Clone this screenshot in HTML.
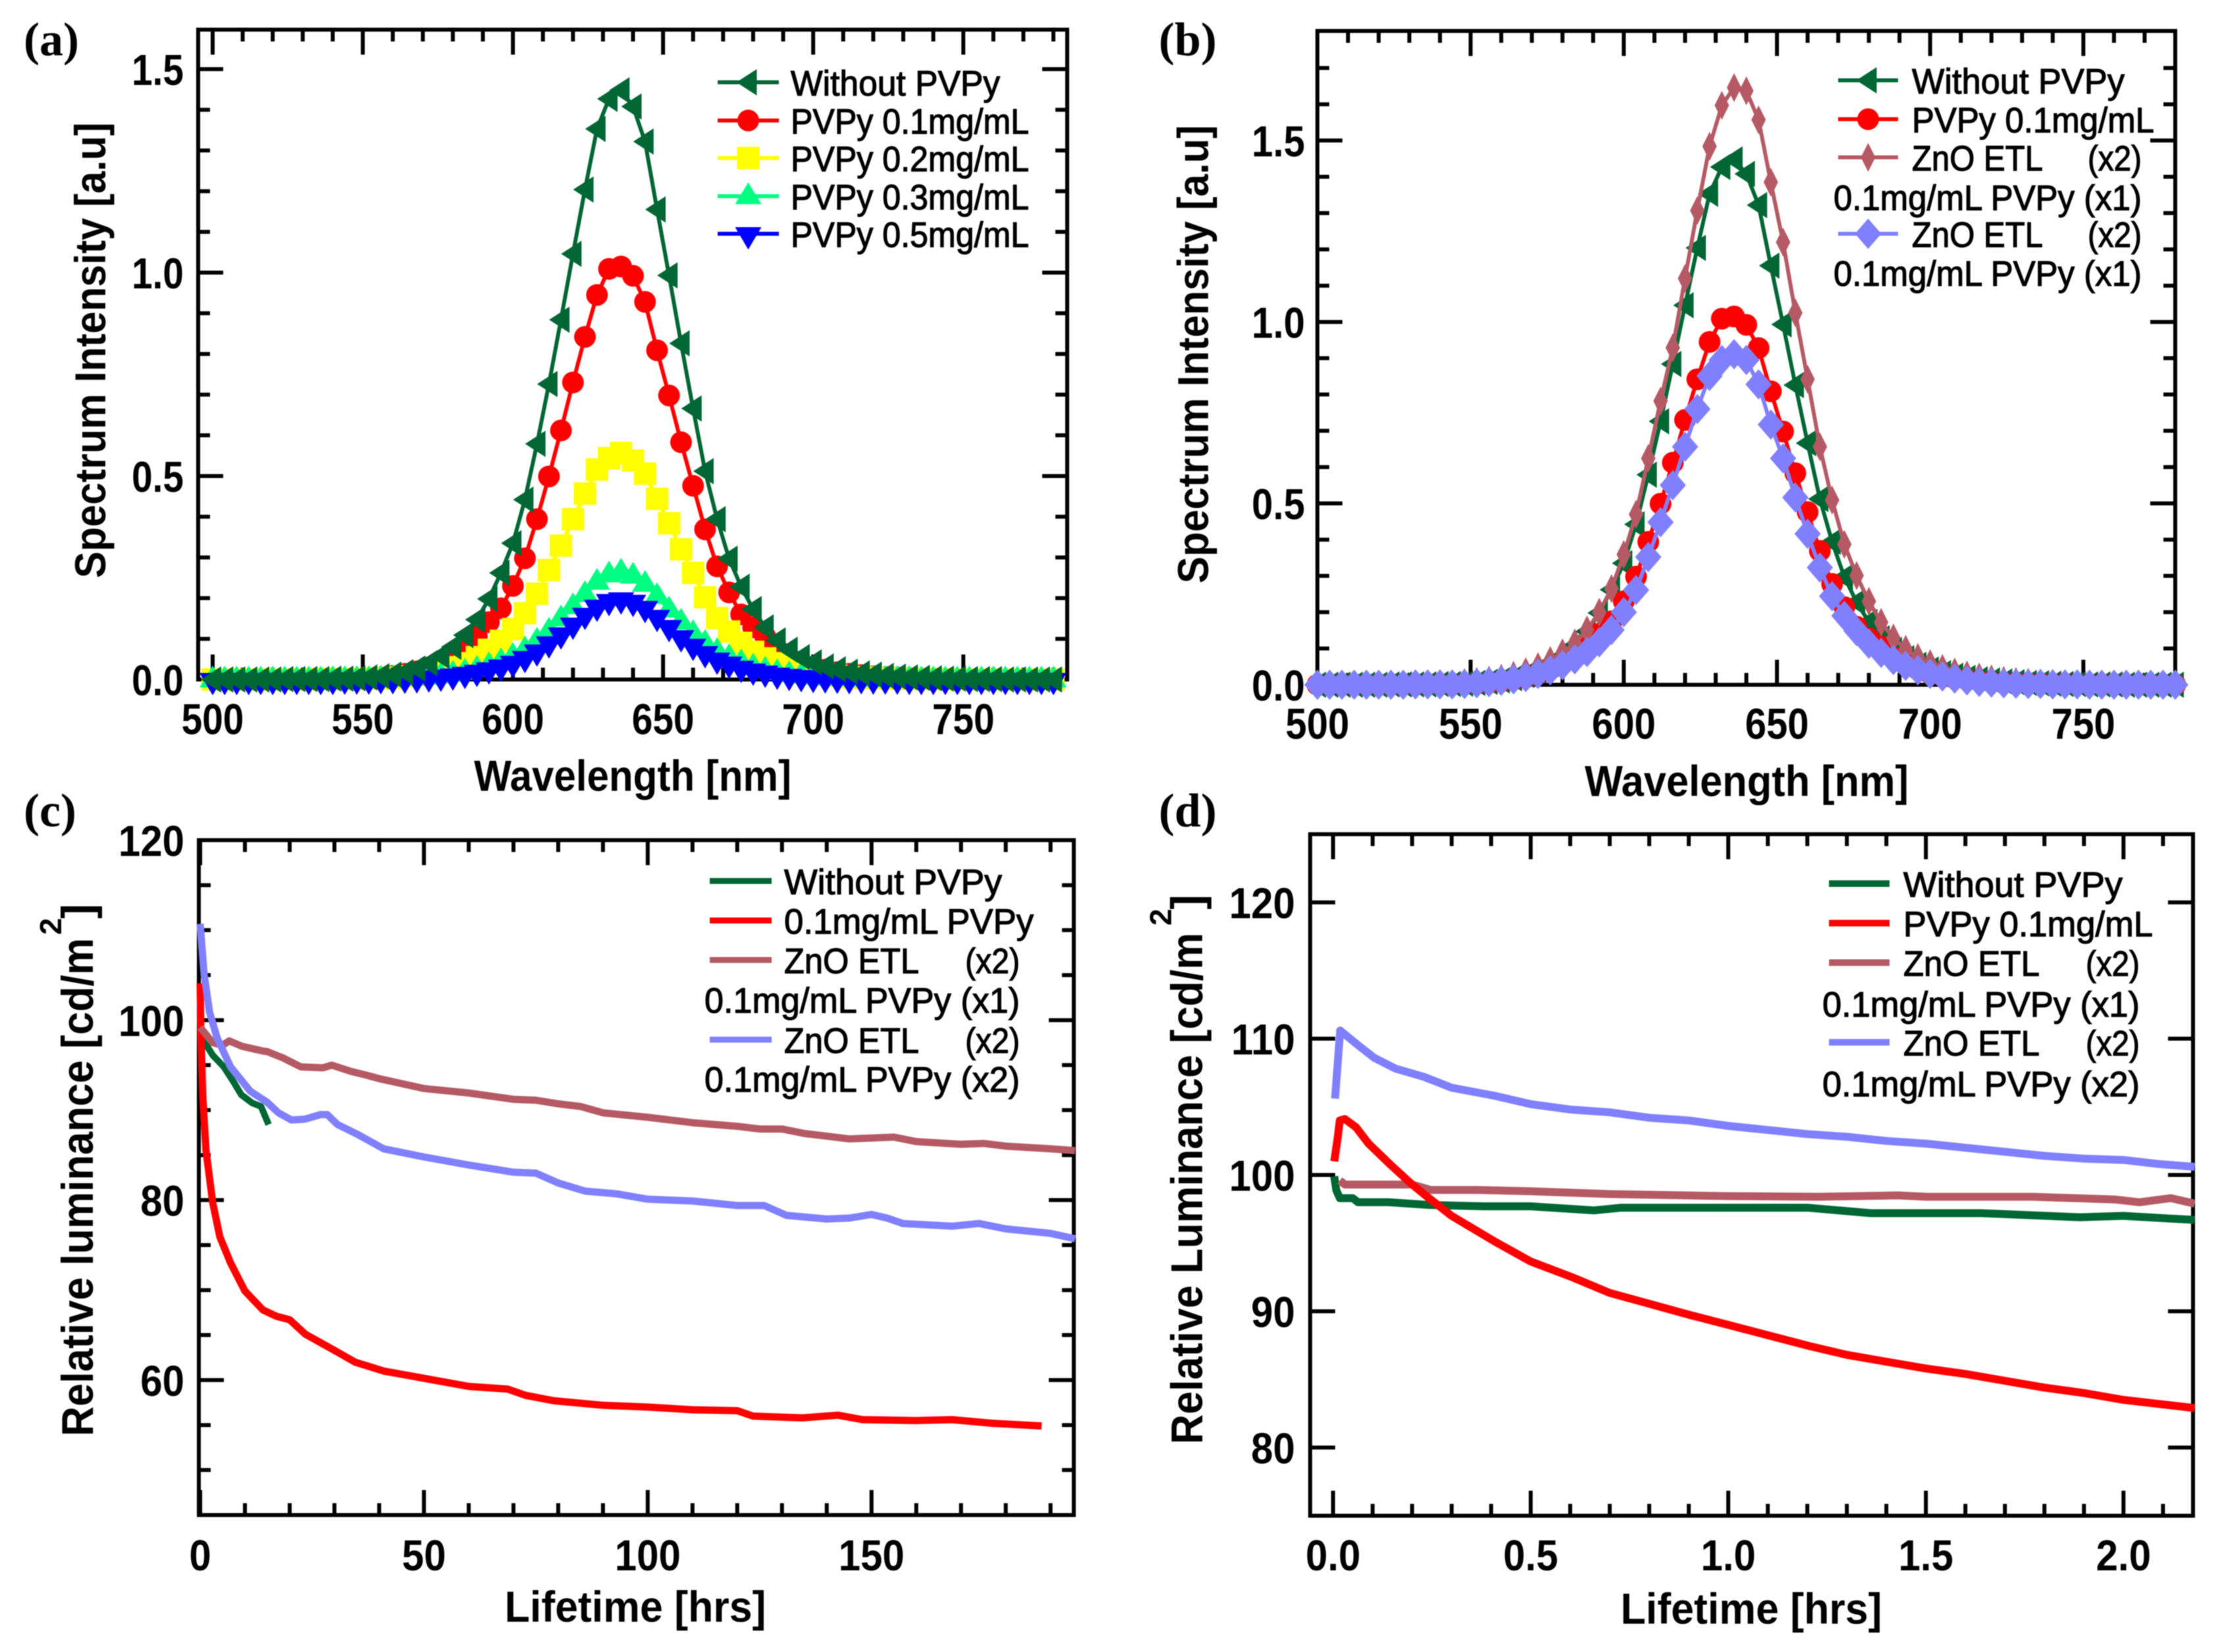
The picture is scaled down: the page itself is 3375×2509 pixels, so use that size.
<!DOCTYPE html>
<html lang="en">
<head>
<meta charset="utf-8">
<title>PVPy spectrum and lifetime charts</title>
<style>
html,body{margin:0;padding:0;background:#fff;}
svg{display:block;filter:blur(0.8px);}
text{font-family:"Liberation Sans",sans-serif;fill:#000;}
</style>
</head>
<body>
<svg id="figure" xmlns="http://www.w3.org/2000/svg" width="3375" height="2509" viewBox="0 0 3375 2509">
<rect x="0" y="0" width="3375" height="2509" fill="#ffffff"/>
</svg>
<script>
/* ---------- spectrum data (panels a, b) ---------- */
const wavelengths = [
500,504,508,512,516,520,524,528,532,536,
540,544,548,552,556,560,564,568,572,576,
580,584,588,592,596,600,604,608,612,616,
620,624,628,632,636,640,644,648,652,656,
660,664,668,672,676,680,684,688,692,696,
700,704,708,712,716,720,724,728,732,736,
740,744,748,752,756,760,764,768,772,776,
780];
const specWithout = [
0,0,0,0,0,0,.001,.001,.001,.001,
.002,.002,.003,.005,.008,.012,.018,.027,.04,.058,
.08,.109,.147,.198,.262,.335,.442,.579,.726,.884,
1.046,1.204,1.353,1.427,1.448,1.408,1.322,1.155,.993,.826,
.666,.512,.394,.297,.228,.173,.128,.096,.073,.055,
.042,.032,.025,.019,.015,.012,.009,.007,.005,.004,
.003,.002,.002,.001,.001,.001,0,0,0,0,
0];
const specPvpy01 = [
0,0,0,0,0,0,0,0,0,.001,
.001,.001,.002,.003,.005,.009,.014,.02,.03,.043,
.058,.077,.106,.141,.175,.23,.298,.394,.499,.612,
.73,.842,.945,1.009,1.015,.992,.928,.809,.698,.583,
.476,.369,.278,.214,.16,.128,.106,.075,.055,.042,
.031,.024,.018,.014,.011,.008,.006,.005,.004,.003,
.002,.002,.001,.001,.001,0,0,0,0,0,
0];
const specPvpy02 = [
0,0,0,0,0,0,0,0,0,.001,
.001,.001,.001,.002,.003,.005,.008,.011,.016,.022,
.03,.04,.055,.073,.095,.124,.163,.211,.269,.329,
.394,.457,.516,.544,.557,.538,.506,.444,.384,.32,
.262,.202,.151,.118,.09,.068,.052,.04,.03,.022,
.017,.012,.009,.006,.005,.004,.003,.002,.002,.001,
.001,.001,0,0,0,0,0,0,0,0,
0];
const specPvpy03 = [
0,0,0,0,0,0,0,0,0,0,
.001,.001,.001,.001,.002,.003,.004,.005,.007,.01,
.014,.019,.026,.035,.045,.058,.074,.095,.12,.15,
.18,.21,.24,.258,.265,.255,.235,.205,.172,.142,
.114,.09,.07,.055,.042,.032,.024,.018,.013,.01,
.007,.005,.004,.003,.002,.002,.001,.001,.001,0,
0,0,0,0,0,0,0,0,0,0,
0];
const specPvpy05 = [
0,0,0,0,0,0,0,0,0,0,
0,.001,.001,.001,.002,.002,.003,.004,.006,.008,
.011,.015,.02,.026,.033,.042,.054,.07,.09,.112,
.136,.16,.18,.194,.198,.192,.177,.155,.13,.105,
.084,.066,.05,.04,.03,.023,.018,.013,.01,.007,
.005,.004,.003,.002,.002,.001,.001,.001,0,0,
0,0,0,0,0,0,0,0,0,0,
0];
const specZnoX2Brown = [
0,0,0,0,0,0,0,.001,.001,.001,
.002,.003,.006,.009,.013,.018,.026,.036,.05,.067,
.088,.115,.151,.2,.265,.359,.47,.624,.782,.929,
1.12,1.307,1.484,1.597,1.646,1.637,1.557,1.385,1.22,1.025,
.842,.656,.509,.387,.301,.23,.172,.129,.098,.075,
.058,.045,.035,.027,.021,.016,.012,.009,.007,.005,
.004,.003,.002,.002,.001,.001,.001,0,0,0,
0];
const specZnoX2Blue = [
0,0,0,0,0,0,0,0,.001,.001,
.001,.001,.002,.004,.007,.011,.015,.021,.03,.04,
.054,.07,.09,.117,.151,.2,.261,.352,.448,.55,
.656,.76,.851,.895,.911,.895,.828,.717,.624,.516,
.416,.323,.244,.19,.148,.113,.088,.068,.052,.04,
.03,.023,.017,.012,.008,.006,.004,.003,.002,.002,
.001,.001,.001,0,0,0,0,0,0,0,
0];

/* ---------- lifetime data, panel c ---------- */
const cGreenT = [0,0.2,1.4,2.8,5.3,7.5,9.2,11.6,13.6,15.3];
const cGreenV = [100,98,97.2,96.1,94.8,93.1,91.7,90.8,90.4,88.4];
const cRedT = [0,.15,.6,1.3,2.8,4.4,6.8,10,14,17,20,23.5,30,34.6,41,50,60,68.7,72.7,79,90,100,110,120,123.5,134.6,142.5,148,160,168,177,188];
const cRedV = [104.1,98.7,91.4,85.5,79.7,75.9,73,69.9,67.8,67.1,66.7,65.1,63.3,62,61,60.2,59.3,59,58.3,57.7,57.2,57,56.7,56.6,56,55.8,56.1,55.6,55.5,55.6,55.2,54.9];
const cBrownT = [0,2.8,5,6.5,9.3,13.7,15,18.5,22.5,27.4,29.4,33.7,37,40,50,60,70,75,80,85,90,100,110,120,125,130,135,140,145,150,155,160,170,175,180,190,195.5];
const cBrownV = [99.2,97.5,97.2,97.7,97.1,96.6,96.5,95.8,94.8,94.7,95,94.3,93.9,93.5,92.4,91.9,91.2,91.1,90.7,90.4,89.7,89.2,88.6,88.2,87.9,87.9,87.4,87.1,86.8,86.9,87,86.5,86.2,86.3,86,85.7,85.5];
const cBlueT = [0,.9,2.1,3.8,6.8,11.2,14.9,17.5,20.4,23.4,26.9,28.4,30.7,35.2,41,50,60,70,75,80,86,93,100,110,120,126,131,140,145,150,153.5,157,168,174,180,190,195.5];
const cBlueV = [110.7,105,100.9,98,94.8,92.1,90.9,89.7,88.9,89,89.5,89.5,88.4,87.3,85.7,84.8,83.9,83.1,83,81.9,81,80.7,80.1,79.9,79.4,79.4,78.3,77.9,78,78.4,78,77.4,77.1,77.4,76.8,76.3,75.7];

/* ---------- lifetime data, panel d ---------- */
const dGreenT = [.003,.008,.017,.05,.063,.14,.242,.38,.5,.66,.73,1.2,1.36,1.64,1.89,2,2.18];
const dGreenV = [99.9,98.9,98.3,98.3,98,98,97.8,97.7,97.7,97.4,97.6,97.6,97.2,97.2,96.9,97,96.7];
const dRedT = [.003,.012,.017,.03,.058,.09,.147,.2,.247,.3,.41,.5,.605,.7,.8,.9,1,1.106,1.205,1.3,1.4,1.5,1.6,1.7,1.8,1.9,2,2.09,2.18];
const dRedV = [101,102.8,104,104.1,103.5,102.3,100.7,99.3,98.2,97,95.1,93.65,92.5,91.35,90.55,89.75,89,88.2,87.45,86.8,86.3,85.8,85.4,84.9,84.4,84,83.5,83.2,82.9];
const dBrownT = [.017,.03,.2,.247,.366,.5,.7,1,1.23,1.43,1.5,1.77,1.98,2.04,2.12,2.18];
const dBrownV = [99.6,99.3,99.3,98.9,98.9,98.8,98.6,98.45,98.4,98.5,98.4,98.4,98.2,98,98.3,97.9];
const dBlueT = [.005,.018,.06,.104,.158,.23,.3,.41,.5,.6,.7,.8,.9,1,1.1,1.2,1.3,1.4,1.5,1.6,1.7,1.8,1.9,2,2.09,2.18];
const dBlueV = [105.6,110.6,109.6,108.6,107.8,107.2,106.4,105.8,105.2,104.8,104.6,104.2,104,103.6,103.3,103,102.8,102.5,102.3,102,101.7,101.4,101.2,101.1,100.8,100.6];

/* ---------- tick labels ---------- */
const aXTickLabels = ["500","550","600","650","700","750"];
const aYTickLabels = ["0.0","0.5","1.0","1.5"];
const bXTickLabels = ["500","550","600","650","700","750"];
const bYTickLabels = ["0.0","0.5","1.0","1.5"];
const cXTickLabels = ["0","50","100","150"];
const cYTickLabels = ["60","80","100","120"];
const dXTickLabels = ["0.0","0.5","1.0","1.5","2.0"];
const dYTickLabels = ["80","90","100","110","120"];

const GREEN = "#006633", RED = "#ff0000", YELLOW = "#ffff00", AQUA = "#00ff80", BLUE = "#0000ff", BROWN = "#b55a64", PERI = "#8080ff";
const SVGNS = "http://www.w3.org/2000/svg";
const root = document.getElementById("figure");

function make(parent, tag, name, attrs) {
  const el = document.createElementNS(SVGNS, tag);
  
  
  for (const k in attrs) el.setAttribute(k, attrs[k]);
  parent.appendChild(el);
  return el;
}

function label(parent, name, str, x, y, o) {
  o = o || {};
  const a = {
    "font-size": o.size || 60,
    "font-weight": o.weight || "bold",
    "text-anchor": o.anchor || "middle",
    transform: "translate(" + x + " " + y + ") rotate(" + (o.rot || 0) + ") scale(" + (o.sx || 1) + " 1)"
  };
  if (o.len) { a.textLength = o.len; a.lengthAdjust = "spacingAndGlyphs"; }
  if (o.serif) a.style = 'font-family:"Liberation Serif",serif';
  if (o.stroke) { a.stroke = "#000"; a["stroke-width"] = o.stroke; }
  const el = make(parent, "text", name, a);
  el.textContent = str;
  return el;
}

function marker(parent, type, x, y, color) {
  let pts = null;
  if (type === "ltri") pts = [[-18,0],[13,-20],[13,20]];
  if (type === "utri") pts = [[0,-21],[20,12],[-20,12]];
  if (type === "dtri") pts = [[-20,-10],[20,-10],[0,24]];
  if (type === "thin") pts = [[0,-22],[11,0],[0,22],[-11,0]];
  if (type === "diam") pts = [[0,-23],[20,0],[0,23],[-20,0]];
  if (type === "circle") return make(parent, "circle", "marker-circle", {cx:x, cy:y, r:16.5, fill:color});
  if (type === "square") return make(parent, "rect", "marker-square", {x:x-17, y:y-17, width:34, height:34, fill:color});
  return make(parent, "polygon", "marker-" + type, {points: pts.map(function(p){return (x+p[0])+","+(y+p[1]);}).join(" "), fill:color});
}

function makePanel(id, rect, xDom, yDom) {
  const g = make(root, "g", "panel-" + id, {});
  const sx = function(v){ return rect.x0 + (v - xDom[0]) / (xDom[1] - xDom[0]) * (rect.x1 - rect.x0); };
  const sy = function(v){ return rect.y1 - (v - yDom[0]) / (yDom[1] - yDom[0]) * (rect.y1 - rect.y0); };
  return {g:g, sx:sx, sy:sy, rect:rect};
}

function tick(p, name, isX, v, len) {
  const r = p.rect;
  if (isX) {
    const x = p.sx(v);
    make(p.g, "line", name + "-bottom", {x1:x, x2:x, y1:r.y1, y2:r.y1-len, stroke:"#000", "stroke-width":6});
    make(p.g, "line", name + "-top", {x1:x, x2:x, y1:r.y0, y2:r.y0+len, stroke:"#000", "stroke-width":6});
  } else {
    const y = p.sy(v);
    make(p.g, "line", name + "-left", {x1:r.x0, x2:r.x0+len, y1:y, y2:y, stroke:"#000", "stroke-width":6});
    make(p.g, "line", name + "-right", {x1:r.x1, x2:r.x1-len, y1:y, y2:y, stroke:"#000", "stroke-width":6});
  }
}

function axes(p, xLabels, yLabels, xMinorStep, yMinorStep, xMax, yMax, xFrom, yFrom, tickOpt, xLabelY, yLabelX) {
  const r = p.rect;
  make(p.g, "rect", "plot-frame", {x:r.x0, y:r.y0, width:r.x1-r.x0, height:r.y1-r.y0, fill:"none", stroke:"#000", "stroke-width":6});
  const isMajorX = {}, isMajorY = {};
  xLabels.forEach(function(s){
    const v = parseFloat(s);
    isMajorX[v.toFixed(3)] = 1;
    tick(p, "x-major-tick", true, v, 38);
    label(p.g, "x-tick-label", s, p.sx(v), xLabelY, {size:66, sx:tickOpt});
  });
  yLabels.forEach(function(s){
    const v = parseFloat(s);
    isMajorY[v.toFixed(3)] = 1;
    tick(p, "y-major-tick", false, v, 38);
    label(p.g, "y-tick-label", s, yLabelX, p.sy(v) + 24, {size:66, anchor:"end", sx:tickOpt});
  });
  const nx = Math.round((xMax - xFrom) / xMinorStep);
  for (let i = 0; i <= nx; i++) {
    const v = xFrom + i * xMinorStep;
    if (!isMajorX[v.toFixed(3)]) tick(p, "x-minor-tick", true, v, 18);
  }
  if (yMinorStep) {
    const ny = Math.round((yMax - yFrom) / yMinorStep);
    for (let j = 0; j <= ny; j++) {
      const w = yFrom + j * yMinorStep;
      if (!isMajorY[w.toFixed(3)]) tick(p, "y-minor-tick", false, w, 18);
    }
  }
}

function series(p, name, xs, ys, color, width, mk) {
  const g = make(p.g, "g", name, {});
  const pts = xs.map(function(x, i){ return p.sx(x).toFixed(1) + "," + p.sy(ys[i]).toFixed(1); }).join(" ");
  make(g, "polyline", name + "-line", {points:pts, fill:"none", stroke:color, "stroke-width":width, "stroke-linejoin":"round"});
  if (mk) xs.forEach(function(x, i){ marker(g, mk, p.sx(x), p.sy(ys[i]), color); });
}

function legendEntry(p, name, text, mk, color, x0, x1, y, textX, textLen, lw) {
  const g = make(p.g, "g", "legend-entry-" + name, {});
  make(g, "line", "legend-line", {x1:x0, x2:x1, y1:y, y2:y, stroke:color, "stroke-width":lw});
  if (mk) marker(g, mk, (x0+x1)/2, y, color);
  label(g, "legend-label", text, textX, y + 20, {size:54, weight:"normal", anchor:"start", len:textLen, stroke:1.2});
}

function legendText(p, name, text, x, y, len) {
  label(p.g, name, text, x, y + 20, {size:54, weight:"normal", anchor:"start", len:len, stroke:1.2});
}

/* ---------- panel a ---------- */
const pa = makePanel("a", {x0:301,x1:1621,y0:45,y1:1032}, [495.18,784.6], [0,1.597]);
axes(pa, aXTickLabels, aYTickLabels, 10, 0.1, 780, 1.5, 500, 0, 0.86, 1115, 279);
series(pa, "series-pvpy-0-1", wavelengths, specPvpy01, RED, 6, "circle");
series(pa, "series-pvpy-0-2", wavelengths, specPvpy02, YELLOW, 6, "square");
series(pa, "series-pvpy-0-3", wavelengths, specPvpy03, AQUA, 6, "utri");
series(pa, "series-pvpy-0-5", wavelengths, specPvpy05, BLUE, 6, "dtri");
series(pa, "series-without-pvpy", wavelengths, specWithout, GREEN, 6, "ltri");
legendEntry(pa, "without", "Without PVPy", "ltri", GREEN, 1090, 1183, 125, 1201, 318, 6);
legendEntry(pa, "0-1", "PVPy 0.1mg/mL", "circle", RED, 1090, 1183, 183, 1201, 362, 6);
legendEntry(pa, "0-2", "PVPy 0.2mg/mL", "square", YELLOW, 1090, 1183, 240, 1201, 362, 6);
legendEntry(pa, "0-3", "PVPy 0.3mg/mL", "utri", AQUA, 1090, 1183, 298, 1201, 362, 6);
legendEntry(pa, "0-5", "PVPy 0.5mg/mL", "dtri", BLUE, 1090, 1183, 355, 1201, 362, 6);
label(pa.g, "x-axis-title", "Wavelength [nm]", 961, 1201, {size:66, len:482});
label(pa.g, "y-axis-title", "Spectrum Intensity [a.u]", 160, 532, {size:66, rot:-90, len:692});
label(pa.g, "panel-label", "(a)", 36, 84, {size:72, anchor:"start", serif:true});

/* ---------- panel b ---------- */
const pb = makePanel("b", {x0:2001,x1:3304,y0:47,y1:1040}, [500,780], [0,1.802]);
axes(pb, bXTickLabels, bYTickLabels, 10, 0.1, 780, 1.7, 500, 0, 0.88, 1122, 1982);
series(pb, "series-without-pvpy", wavelengths, specWithout, GREEN, 6, "ltri");
series(pb, "series-pvpy-0-1", wavelengths, specPvpy01, RED, 6, "circle");
series(pb, "series-zno-etl-x2-x1", wavelengths, specZnoX2Brown, BROWN, 6, "thin");
series(pb, "series-zno-etl-x2-x1-blue", wavelengths, specZnoX2Blue, PERI, 6, "diam");
legendEntry(pb, "without", "Without PVPy", "ltri", GREEN, 2792, 2883, 122, 2904, 323, 6);
legendEntry(pb, "0-1", "PVPy 0.1mg/mL", "circle", RED, 2792, 2883, 181, 2904, 368, 6);
legendEntry(pb, "zno-brown", "ZnO ETL", "thin", BROWN, 2792, 2883, 239, 2904, 199, 6);
legendText(pb, "legend-label-x2", "(x2)", 3171, 239, 82);
legendText(pb, "legend-label-pvpy-x1", "0.1mg/mL PVPy (x1)", 2785, 299, 468);
legendEntry(pb, "zno-blue", "ZnO ETL", "diam", PERI, 2792, 2883, 355, 2904, 199, 6);
legendText(pb, "legend-label-x2", "(x2)", 3171, 355, 82);
legendText(pb, "legend-label-pvpy-x1", "0.1mg/mL PVPy (x1)", 2785, 414, 468);
label(pb.g, "x-axis-title", "Wavelength [nm]", 2653, 1209, {size:66, len:492});
label(pb.g, "y-axis-title", "Spectrum Intensity [a.u]", 1835, 538, {size:66, rot:-90, len:696});
label(pb.g, "panel-label", "(b)", 1760, 84, {size:72, anchor:"start", serif:true});

/* ---------- panel c ---------- */
const pc = makePanel("c", {x0:302,x1:1631,y0:1276,y1:2301}, [-0.3,195.2], [45,120]);
axes(pc, cXTickLabels, cYTickLabels, 10, 5, 190, 115, 0, 50, 0.91, 2385, 280);
series(pc, "series-without-pvpy", cGreenT, cGreenV, GREEN, 10);
series(pc, "series-0-1-pvpy", cRedT, cRedV, RED, 11);
series(pc, "series-zno-x2-x1", cBrownT, cBrownV, BROWN, 11);
series(pc, "series-zno-x2-x2", cBlueT, cBlueV, PERI, 11);
legendEntry(pc, "without", "Without PVPy", null, GREEN, 1078, 1172, 1338, 1191, 331, 9);
legendEntry(pc, "0-1", "0.1mg/mL PVPy", null, RED, 1078, 1172, 1398, 1191, 379, 9);
legendEntry(pc, "zno-brown", "ZnO ETL", null, BROWN, 1078, 1172, 1458, 1191, 205, 9);
legendText(pc, "legend-label-x2", "(x2)", 1466, 1458, 83);
legendText(pc, "legend-label-pvpy-x1", "0.1mg/mL PVPy (x1)", 1070, 1518, 479);
legendEntry(pc, "zno-blue", "ZnO ETL", null, PERI, 1078, 1172, 1579, 1191, 205, 9);
legendText(pc, "legend-label-x2", "(x2)", 1466, 1579, 83);
legendText(pc, "legend-label-pvpy-x2", "0.1mg/mL PVPy (x2)", 1070, 1638, 479);
label(pc.g, "x-axis-title", "Lifetime [hrs]", 965, 2463, {size:66, len:397});
label(pc.g, "y-axis-title", "Relative luminance [cd/m", 141, 1803, {size:68, rot:-90, len:757});
label(pc.g, "y-axis-title-superscript", "2", 93, 1407, {size:46, rot:-90});
label(pc.g, "y-axis-title-bracket", "]", 141, 1384, {size:68, rot:-90});
label(pc.g, "panel-label", "(c)", 36, 1255, {size:72, anchor:"start", serif:true});

/* ---------- panel d ---------- */
const pd = makePanel("d", {x0:1990,x1:3331,y0:1267,y1:2302}, [-0.058,2.176], [75,125]);
axes(pd, dXTickLabels, dYTickLabels, 0.1, 0, 2.1, 0, 0, 0, 0.91, 2385, 1967);
series(pd, "series-without-pvpy", dGreenT, dGreenV, GREEN, 12);
series(pd, "series-zno-x2-x1", dBrownT, dBrownV, BROWN, 12);
series(pd, "series-pvpy-0-1", dRedT, dRedV, RED, 12);
series(pd, "series-zno-x2-x2", dBlueT, dBlueV, PERI, 12);
legendEntry(pd, "without", "Without PVPy", null, GREEN, 2778, 2870, 1342, 2891, 333, 10);
legendEntry(pd, "0-1", "PVPy 0.1mg/mL", null, RED, 2778, 2870, 1402, 2891, 379, 10);
legendEntry(pd, "zno-brown", "ZnO ETL", null, BROWN, 2778, 2870, 1462, 2891, 207, 10);
legendText(pd, "legend-label-x2", "(x2)", 3168, 1462, 82);
legendText(pd, "legend-label-pvpy-x1", "0.1mg/mL PVPy (x1)", 2768, 1524, 482);
legendEntry(pd, "zno-blue", "ZnO ETL", null, PERI, 2778, 2870, 1583, 2891, 207, 10);
legendText(pd, "legend-label-x2", "(x2)", 3168, 1583, 82);
legendText(pd, "legend-label-pvpy-x2", "0.1mg/mL PVPy (x2)", 2768, 1645, 482);
label(pd.g, "x-axis-title", "Lifetime [hrs]", 2660, 2466, {size:66, len:397});
label(pd.g, "y-axis-title", "Relative Luminance [cd/m", 1826, 1805, {size:68, rot:-90, len:777});
label(pd.g, "y-axis-title-superscript", "2", 1779, 1393, {size:46, rot:-90});
label(pd.g, "y-axis-title-bracket", "]", 1826, 1370, {size:68, rot:-90});
label(pd.g, "panel-label", "(d)", 1760, 1255, {size:72, anchor:"start", serif:true});
</script>
</body>
</html>
